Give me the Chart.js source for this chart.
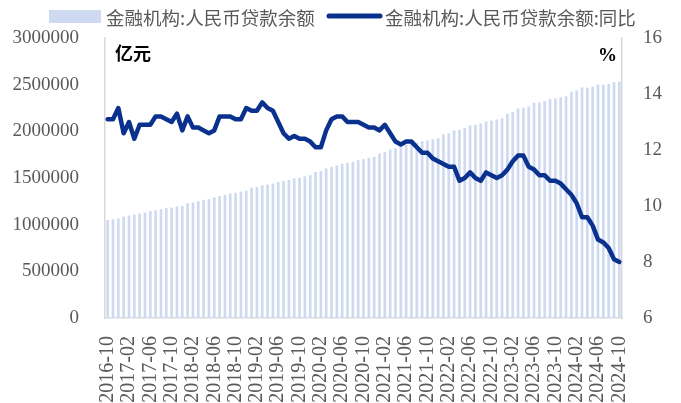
<!DOCTYPE html>
<html>
<head>
<meta charset="utf-8">
<script src="https://cdn.jsdelivr.net/npm/chart.js@4.4.1/dist/chart.umd.min.js"></script>
<style>
  html, body { margin: 0; padding: 0; background: #fff; }
  #chart { display: block; }
</style>
</head>
<body>
<canvas id="chart" width="681" height="403"></canvas>
<script>
// months 2016-10 .. 2024-10
const months = [];
for (let y = 2016, m = 10; y < 2024 || (y === 2024 && m <= 10); m++) {
  if (m > 12) { m = 1; y++; }
  months.push(y + "-" + String(m).padStart(2, "0"));
}

// 金融机构:人民币贷款余额 (亿元)
const loanBalance = [
  1049600, 1057600, 1066000,
  1086300, 1098000, 1108200, 1119200, 1130300, 1145700, 1153900, 1164800, 1177500, 1184100, 1195300, 1201300,
  1230300, 1238700, 1250500, 1262300, 1273800, 1292200, 1306700, 1319500, 1333300, 1340200, 1352700, 1363000,
  1395300, 1403900, 1420800, 1428900, 1440700, 1457300, 1467900, 1479900, 1496700, 1503300, 1517200, 1531100,
  1564600, 1573700, 1602300, 1619400, 1634200, 1652000, 1661900, 1674700, 1693700, 1700600, 1714900, 1727500,
  1763300, 1776900, 1804300, 1819000, 1834000, 1855200, 1866000, 1878200, 1894600, 1902800, 1915500, 1926900,
  1966700, 1979000, 2010300, 2016800, 2035700, 2063500, 2070300, 2082800, 2107600, 2113900, 2126000, 2139900,
  2188900, 2207000, 2245900, 2253000, 2266600, 2305800, 2308500, 2322100, 2345900, 2353300, 2364200, 2375900,
  2425100, 2439600, 2470600, 2467600, 2477100, 2501800, 2499200, 2508200, 2527200, 2533000
];

// 金融机构:人民币贷款余额:同比 (%)
const loanYoY = [
  13.1, 13.1, 13.5,
  12.6, 13.0, 12.4, 12.9, 12.9, 12.9, 13.2, 13.2, 13.1, 13.0, 13.3, 12.7,
  13.2, 12.8, 12.8, 12.7, 12.6, 12.7, 13.2, 13.2, 13.2, 13.1, 13.1, 13.5,
  13.4, 13.4, 13.7, 13.5, 13.4, 13.0, 12.6, 12.4, 12.5, 12.4, 12.4, 12.3,
  12.1, 12.1, 12.7, 13.1, 13.2, 13.2, 13.0, 13.0, 13.0, 12.9, 12.8, 12.8,
  12.7, 12.9, 12.6, 12.3, 12.2, 12.3, 12.3, 12.1, 11.9, 11.9, 11.7, 11.6,
  11.5, 11.4, 11.4, 10.9, 11.0, 11.2, 11.0, 10.9, 11.2, 11.1, 11.0, 11.1,
  11.3, 11.6, 11.8, 11.8, 11.4, 11.3, 11.1, 11.1, 10.9, 10.9, 10.8, 10.6,
  10.4, 10.1, 9.6, 9.6, 9.3, 8.8, 8.7, 8.5, 8.1, 8.0
];

const barName = "金融机构:人民币贷款余额";
const lineName = "金融机构:人民币贷款余额:同比";

const barColor = "#cddaf1";
const lineColor = "#0b318f";
const tickColor = "#595959";
const axisColor = "#d9d9d9";
const serif = "'Liberation Serif', 'Noto Sans CJK SC', serif";
const cjk = "'Noto Sans CJK SC', sans-serif";

// legend + unit labels drawn on top
const extras = {
  id: "extras",
  afterDraw(chart) {
    const ctx = chart.ctx;
    ctx.save();
    ctx.fillStyle = barColor;
    ctx.fillRect(49, 10, 52, 13);
    ctx.font = "18.5px " + cjk;
    ctx.fillStyle = tickColor;
    ctx.textBaseline = "middle";
    ctx.textAlign = "left";
    ctx.fillText(barName, 106, 18);
    ctx.strokeStyle = lineColor;
    ctx.lineWidth = 5;
    ctx.lineCap = "round";
    ctx.beginPath();
    ctx.moveTo(329, 16);
    ctx.lineTo(380, 16);
    ctx.stroke();
    ctx.fillText(lineName, 385, 18);

    ctx.fillStyle = "#000";
    ctx.font = "bold 18px " + cjk;
    ctx.fillText("亿元", 115, 53);
    ctx.font = "bold 19px " + serif;
    ctx.fillText("%", 598, 56);
    ctx.restore();
  }
};

new Chart(document.getElementById("chart"), {
  type: "bar",
  data: {
    labels: months,
    datasets: [
      {
        type: "line",
        label: lineName,
        data: loanYoY,
        yAxisID: "y1",
        borderColor: lineColor,
        borderWidth: 4.5,
        pointRadius: 0,
        tension: 0,
        borderJoinStyle: "round",
        borderCapStyle: "round",
        order: 0
      },
      {
        type: "bar",
        label: barName,
        data: loanBalance,
        yAxisID: "y",
        backgroundColor: barColor,
        barPercentage: 0.5,
        categoryPercentage: 1,
        order: 1
      }
    ]
  },
  options: {
    responsive: false,
    animation: false,
    layout: { padding: { top: 38, left: 0, right: 0, bottom: 0 } },
    plugins: { legend: { display: false }, tooltip: { enabled: false } },
    scales: {
      x: {
        offset: true,
        grid: { display: false, drawTicks: false },
        border: { display: true, color: axisColor, width: 1.5 },
        ticks: {
          autoSkip: false,
          maxRotation: 90,
          minRotation: 90,
          padding: 18,
          color: tickColor,
          font: { family: serif, size: 20 },
          callback: (v, i) => (i % 4 === 0 ? months[i] : "")
        },
        afterFit: (s) => { s.height = 85; }
      },
      y: {
        position: "left",
        min: 0,
        max: 3000000,
        grid: { display: false, drawTicks: false },
        border: { display: true, color: axisColor, width: 1.5 },
        ticks: {
          stepSize: 500000,
          padding: 26,
          color: tickColor,
          font: { family: serif, size: 19 },
          callback: (v) => String(v)
        },
        afterFit: (s) => { s.width = 105; }
      },
      y1: {
        position: "right",
        min: 6,
        max: 16,
        grid: { display: false, drawTicks: false },
        border: { display: true, color: axisColor, width: 1.5 },
        ticks: {
          stepSize: 2,
          padding: 21,
          color: tickColor,
          font: { family: serif, size: 19 }
        },
        afterFit: (s) => { s.width = 59; }
      }
    }
  },
  plugins: [extras]
});
</script>
</body>
</html>
